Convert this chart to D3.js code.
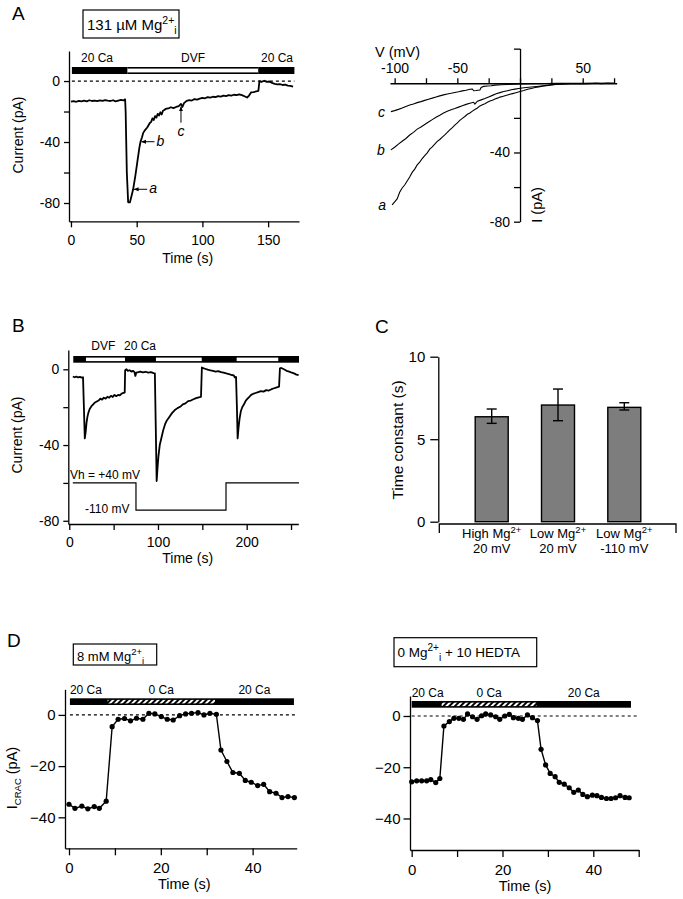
<!DOCTYPE html>
<html><head><meta charset="utf-8">
<script src="https://cdn.jsdelivr.net/npm/d3@7"></script>
<style>body{margin:0;background:#fff}</style>
</head><body><svg id="fig" width="683" height="899"></svg>
<script>
// ---------------- DATA ----------------
// Panel A (left): current trace
const aTime = [0,2,4,6,8,10,12,14,16,18,20,22,24,26,28,30,32,34,36,38,40,41.2,41.6,42.5,43.5,44.8,45.6,47.3,49,50.5,52,52.9,54,55,56.5,58,59,60,61,62,63,64,65,66,67,68,69,70,71,72,74,76,78,80,82,83.7,84.8,86,88,90,92,94,96,98,100,102,104,106,108,110,112,114,116,118,120,122,124,126,128,130,132,134,135.5,137,139,141,142.6,143.4,145,147,149,151,153,155,157,159,161,163,165,167,169];
const aCurrent = [-13.5,-13.2,-13.6,-13.0,-13.4,-12.9,-13.3,-12.6,-13.1,-12.8,-13.2,-12.7,-13.0,-12.5,-12.9,-13.1,-12.6,-13.3,-12.8,-12.4,-12.7,-12.0,-20,-60,-79.5,-79.6,-77,-71,-62,-53,-44,-39.8,-37,-34,-32,-30.5,-29,-27.5,-26.8,-24.5,-25.6,-23,-24,-21.5,-22.6,-20.5,-22,-19.5,-19,-18.3,-18,-17.2,-17.8,-17,-16.4,-15,-17,-14.5,-13,-12.5,-12.8,-11.8,-12.2,-11.5,-11.0,-11.3,-10.6,-10.9,-10.3,-10.6,-9.9,-10.2,-9.6,-9.9,-9.3,-9.6,-9.0,-9.3,-8.7,-9.2,-10.0,-10.8,-9.5,-7.5,-7.2,-6.8,-6.5,0,-0.5,0.2,-0.6,-0.3,-1.2,-1.8,-2.2,-2.0,-2.6,-2.4,-3.0,-3.2,-3.6];
const aSolution = [{name:"20 Ca", from:0.7, to:43, fill:"black"},{name:"DVF", from:43, to:142.5, fill:"white"},{name:"20 Ca", from:142.5, to:170, fill:"black"}];
const aMarks = [{label:"a", t:47.3, i:-71, dir:"left"},{label:"b", t:52.9, i:-39.8, dir:"left"},{label:"c", t:83.7, i:-15.5, dir:"up"}];

// Panel A (right): I-V relations
const ivA_V = [-102,-100,-98,-96,-94,-92,-90,-88,-86,-84,-82,-80,-78,-76,-74,-72,-70,-68,-66,-64,-62,-60,-58,-56,-54,-52,-50,-48,-46,-44,-42,-40,-38,-36,-34,-32,-30,-28,-26,-24,-22,-20,-18,-16,-14,-12,-10,-8,-6,-4,-2,0,3,6,9,12,15,18,21,24,27,30,35,40,45,50,55,60,65,70,75];
const ivA_I = [-70.3,-68.5,-66.8,-63,-60.5,-58.8,-56.5,-54.2,-51.5,-49.6,-47.2,-45.6,-43.5,-41.8,-40.2,-38.1,-36.8,-35.2,-33.6,-32.5,-31.1,-29.8,-28.4,-26.9,-25.6,-24.2,-22.9,-21.4,-20.3,-19.2,-17.9,-17.2,-16.1,-15.2,-14.3,-13.1,-12.4,-11.8,-11.0,-10.3,-9.8,-9.1,-8.6,-8.0,-7.6,-7.2,-6.8,-6.4,-6.0,-5.6,-5.2,-4.8,-4.2,-3.5,-3.0,-2.5,-2.1,-1.7,-1.4,-1.1,-0.8,-0.6,-0.4,-0.3,-0.2,-0.1,-0.3,0,-0.2,0.1,-0.1];
const ivB_V = [-103,-100,-97,-94,-91,-88,-85,-82,-79,-76,-73,-70,-67,-64,-61,-58,-55,-52,-49,-46,-43,-40,-37,-36,-35,-34,-31,-28,-25,-22,-19,-16,-13,-10,-7,-4,-1,3,7,11,15,20,25,30,40,50,60,70,75];
const ivB_I = [-38.5,-37,-35.2,-33.5,-31.9,-29.9,-28.4,-26.5,-25.3,-23.8,-22.4,-21.0,-19.6,-18.5,-17.2,-16.2,-15.3,-14.6,-13.8,-13.0,-12.2,-11.6,-11.0,-12.0,-11.2,-10.4,-9.6,-8.8,-7.9,-7.0,-6.1,-5.4,-4.8,-4.3,-3.8,-3.4,-3.0,-2.6,-2.3,-2.0,-1.7,-1.3,-0.9,-0.6,-0.3,-0.2,0,-0.1,0];
const ivC_V = [-103,-100,-97,-94,-91,-88,-85,-82,-79,-76,-73,-70,-67,-64,-61,-58,-55,-52,-49,-46,-43,-40,-38,-37,-35,-32,-31,-29,-26,-23,-20,-15,-10,-5,0,10,20,30,50,75];
const ivC_I = [-16.4,-15.8,-15.1,-14.3,-13.4,-12.6,-12.0,-11.2,-10.6,-9.9,-9.2,-8.6,-7.9,-7.3,-6.7,-6.2,-5.8,-5.3,-4.9,-4.4,-4.0,-3.5,-3.3,-4.3,-4.2,-3.9,-2.4,-1.8,-1.6,-1.4,-1.1,-0.9,-0.7,-0.5,-0.4,-0.2,-0.1,0,0,0];
const ivLabels = ["a","b","c"];

// Panel B: repeated DVF applications
const bTime = [4,6,8,10,12,14,15.5,16.5,17.5,18.5,19.5,20.5,21.5,23,25,27,29,31,33,35,37,39,41,43,45,47,49,51,53,55,57,59,61,62.5,63,64.5,66,68,70,72,73.5,74.5,75.5,78,80,83,86,89,92,95,96.5,97.5,98.5,99.5,100.5,102,104,106,108,110,113,116,119,122,125,128,131,134,137,140,143,146,148.5,149.5,151,153,156,159,162,165,168,171,174,177,180,183,185.5,186.5,188,189,189.8,190.8,192,193.5,195,197,199,201,203,205,207,210,213,216,219,222,225,228,231,234,236.5,237.5,239,242,245,248,251,254,256,258.5];
const bCurrent = [-3.8,-4.2,-3.9,-4.3,-4.0,-4.4,-4.2,-20,-36.5,-33,-28,-25,-23,-21,-19.5,-18.5,-17.5,-17,-16.5,-15.5,-16,-15,-15.5,-14.5,-15,-14,-14.6,-13.5,-14.2,-13.5,-13.8,-12.8,-12.5,-12.3,-0.5,0,-0.8,-0.5,-1.2,-0.8,-1.5,-3.5,-1.8,-1.5,-1.2,-1.6,-1.3,-1.8,-1.5,-2.0,-2.2,-30,-59,-52,-46,-40,-36,-32,-29,-27,-25,-23,-21.5,-20.5,-19.8,-18.5,-18,-16.8,-16.5,-15.8,-15.2,-14.8,-14.5,1.0,0.6,0.3,-0.2,-0.5,-0.8,-1.2,-1.0,-1.5,-1.8,-2.2,-2.5,-3.0,-3.2,-4.2,-4.0,-20,-36.5,-31,-26,-22,-20,-18.5,-16.5,-15.5,-14.5,-13.5,-13,-12.5,-12,-11.5,-11.8,-11,-11.2,-10.5,-10,-9.5,-9.2,0.5,0.7,0,-0.8,-1.2,-1.8,-2.3,-2.8,-3.0];
const bBar = [4.5, 259];
const bDVF = [[18.8,62.8],[97.7,149.3],[188.7,235.6]];
const bProtocolT = [4, 75.2, 75.2, 176.7, 176.7, 259];
const bProtocolY = [-60, -60, -74.4, -74.4, -60, -60];

// Panel C: time constants
const cCategories = ["High Mg", "Low Mg", "Low Mg "];
const cLine2 = ["20 mV", "20 mV", "-110 mV"];
const cMeans = [6.36, 7.07, 6.93];
const cErrLow = [5.96, 6.12, 6.77];
const cErrHigh = [6.83, 8.04, 7.21];

// Panel D (left): 8 mM Mg
const dlTime = [0,1.3,2.8,4.1,5.5,6.6,8.1,9.4,10.7,12.1,13.4,14.7,16.1,17.4,18.7,20.1,21.4,22.7,24.1,25.4,26.7,28.1,29.4,30.7,32.1,33.1,34.4,35.7,37.1,38.4,39.7,41.1,42.4,43.7,45.1,46.4,47.7,49.1];
const dlCurrent = [-34.9,-36.5,-35.6,-36.7,-35.8,-36.5,-33.7,-4.6,-1.7,-1.4,-2.3,-1.3,-1.7,0.65,0.4,-0.65,-1.7,-2.0,-0.3,0.4,0.65,0.9,0,0.65,0.26,-13.7,-18.2,-22.5,-22.8,-25.6,-26.3,-27.6,-27.1,-30,-30.6,-32.3,-31.9,-32.3];
const dlBar = [0.2, 49];
const dlZeroCa = [8.4, 31.8];

// Panel D (right): 0 Mg + 10 HEDTA
const drTime = [0,1.1,2.2,3.3,4.2,5.3,6.2,7.1,8.3,9.3,10.4,11.4,12.3,13.4,14.4,15.4,16.3,17.4,18.5,19.4,20.5,21.5,22.4,23.5,24.4,25.5,26.6,27.7,28.5,29.5,30.5,31.6,32.5,33.6,34.7,35.7,36.7,37.7,38.7,39.8,40.8,41.8,42.9,43.9,44.9,45.9,47.0,47.9];
const drCurrent = [-25.7,-25.3,-25.3,-25.3,-24.8,-26,-24.4,-3.9,-2.2,-0.9,-0.9,-1.3,0.8,-0.3,-1.3,0.1,0.8,0.4,-0.3,-1.3,0,0.65,-0.65,-0.9,-1.3,0.4,-0.65,-1.8,-13,-19.1,-22.4,-23.7,-25.9,-26.6,-28,-29.8,-28.9,-30.6,-31.5,-30.9,-31.1,-31.8,-32.2,-32.2,-31.9,-31.1,-31.8,-31.9];
const drBar = [0, 48.3];
const drZeroCa = [6.6, 27.5];

// ---------------- DRAWING ----------------
const FONT = '"Liberation Sans", Arial, Helvetica, sans-serif';
const svg = d3.select("#fig").attr("font-family", FONT);
svg.append("rect").attr("width",683).attr("height",899).attr("fill","#fff");

const defs = svg.append("defs");
const pat = defs.append("pattern").attr("id","hatch").attr("patternUnits","userSpaceOnUse")
  .attr("width",4).attr("height",4).attr("patternTransform","rotate(45)");
pat.append("rect").attr("width",4).attr("height",4).attr("fill","#fff");
pat.append("rect").attr("width",2).attr("height",4).attr("fill","#000");
defs.append("marker").attr("id","arr").attr("viewBox","0 0 10 10").attr("refX",9).attr("refY",5)
  .attr("markerWidth",5).attr("markerHeight",5).attr("orient","auto")
  .append("path").attr("d","M0,1 L10,5 L0,9 Z").attr("fill","#000");

function fmt(labels){ return d => labels.includes(d) ? String(d) : ""; }
function styleAxis(g, fs){
  g.attr("font-family", FONT).attr("font-size", fs);
  g.selectAll("path.domain").attr("stroke","#000").attr("stroke-width",1.3);
  g.selectAll(".tick line").attr("stroke","#000").attr("stroke-width",1.3);
  g.selectAll("text").attr("fill","#000");
}
function txt(x,y,s,fs,anchor,extra){
  const t = svg.append("text").attr("x",x).attr("y",y).attr("font-size",fs)
    .attr("text-anchor",anchor||"start").attr("fill","#000").text(s);
  if (extra) extra(t);
  return t;
}
function vtitle(x,y,s,fs){
  return svg.append("text").attr("transform",`translate(${x},${y}) rotate(-90)`)
    .attr("text-anchor","middle").attr("font-size",fs).attr("fill","#000").text(s);
}
function letter(x,y,s){ txt(x,y,s,19,"start"); }

// ---------- Panel A left ----------
letter(12,20,"A");
{
  svg.append("rect").attr("x",83).attr("y",10).attr("width",96).attr("height",28)
    .attr("fill","#fff").attr("stroke","#000").attr("stroke-width",1.2);
  const t = txt(87,30,"131 \u00B5M Mg",15);
  t.append("tspan").attr("dy",-6).attr("font-size",10.5).text("2+");
  t.append("tspan").attr("dy",10).attr("font-size",10.5).text("i");

  const x = d3.scaleLinear().domain([-1.5,173.5]).range([69,299]);
  const y = d3.scaleLinear().domain([-92,19.7]).range([221.3,51]);
  const gx = svg.append("g").attr("transform","translate(0,221.3)")
    .call(d3.axisBottom(x).tickValues([0,50,100,150]).tickFormat(fmt([0,50,100,150])).tickSize(6).tickSizeOuter(0).tickPadding(8));
  styleAxis(gx,14);
  const gy = svg.append("g").attr("transform","translate(69,0)")
    .call(d3.axisLeft(y).tickValues([0,-20,-40,-60,-80]).tickFormat(fmt([0,-40,-80])).tickSize(5).tickSizeOuter(0).tickPadding(4));
  styleAxis(gy,14);
  txt(187.7,262.7,"Time (s)",14,"middle");
  vtitle(23,135,"Current (pA)",14);

  // solution bar
  const by = 67, bh = 7;
  const labelX = [97, 193, 277];
  aSolution.forEach((s,k)=>{
    svg.append("rect").attr("x",x(s.from)).attr("y",by).attr("width",x(s.to)-x(s.from)).attr("height",bh).attr("fill","#000");
    if (s.fill==="white") svg.append("rect").attr("x",x(s.from)).attr("y",by+1.6).attr("width",x(s.to)-x(s.from)).attr("height",bh-3.2).attr("fill","#fff");
    txt(labelX[k],62,s.name,12,"middle");
  });
  svg.append("line").attr("x1",x(0.7)).attr("x2",x(170)).attr("y1",y(0)).attr("y2",y(0))
    .attr("stroke","#000").attr("stroke-width",1.2).attr("stroke-dasharray","3,3");

  const line = d3.line().x((d,i)=>x(aTime[i])).y((d,i)=>y(aCurrent[i]));
  svg.append("path").attr("d",line(aTime)).attr("fill","none").attr("stroke","#000").attr("stroke-width",1.8).attr("stroke-linejoin","round");

  aMarks.forEach(m=>{
    const px = x(m.t), py = y(m.i);
    if (m.dir==="left"){
      svg.append("line").attr("x1",px+14).attr("y1",py).attr("x2",px+1).attr("y2",py)
        .attr("stroke","#000").attr("stroke-width",1).attr("marker-end","url(#arr)");
      txt(px+16,py+4,m.label,14,"start",t=>t.attr("font-style","italic"));
    } else {
      svg.append("line").attr("x1",px).attr("y1",py+18).attr("x2",px).attr("y2",py+2)
        .attr("stroke","#000").attr("stroke-width",1).attr("marker-end","url(#arr)");
      txt(px,py+31,m.label,14,"middle",t=>t.attr("font-style","italic"));
    }
  });
}

// ---------- Panel A right (I-V) ----------
{
  const x = d3.scaleLinear().domain([-103.7,77.1]).range([390,616.7]);
  const y = d3.scaleLinear().domain([-80,20.2]).range([221.7,48.3]);
  const gx = svg.append("g").attr("transform",`translate(0,${y(0)})`)
    .call(d3.axisTop(x).tickValues([-100,-75,-50,-25,0,25,50,75]).tickFormat(fmt([-100,-50,50])).tickSize(5).tickSizeOuter(0).tickPadding(5));
  styleAxis(gx,14);
  const gy = svg.append("g").attr("transform",`translate(${x(0)},0)`)
    .call(d3.axisLeft(y).tickValues([20,-20,-40,-60,-80]).tickFormat(fmt([-40,-80])).tickSize(6).tickSizeOuter(0).tickPadding(4));
  styleAxis(gy,14);
  txt(375,56.7,"V (mV)",14.5,"start");
  vtitle(542,205,"I (pA)",14.5);
  const series = [[ivA_V,ivA_I],[ivB_V,ivB_I],[ivC_V,ivC_I]];
  series.forEach((s,k)=>{
    const ln = d3.line().x((d,i)=>x(s[0][i])).y((d,i)=>y(s[1][i]));
    svg.append("path").attr("d",ln(s[0])).attr("fill","none").attr("stroke","#000").attr("stroke-width",1.1);
    txt(x(s[0][0])-6, y(s[1][0])+5, ivLabels[k], 14, "end", t=>t.attr("font-style","italic"));
  });
}

// ---------- Panel B ----------
letter(12,332,"B");
{
  const x = d3.scaleLinear().domain([-1.1,258.2]).range([68.3,298.3]);
  const y = d3.scaleLinear().domain([-81.7,10.2]).range([524,350]);
  const gx = svg.append("g").attr("transform","translate(0,524)")
    .call(d3.axisBottom(x).tickValues([0,50,100,150,200,250]).tickFormat(fmt([0,100,200])).tickSize(6).tickSizeOuter(0).tickPadding(7));
  styleAxis(gx,14);
  const gy = svg.append("g").attr("transform","translate(68.3,0)")
    .call(d3.axisLeft(y).tickValues([0,-20,-40,-60,-80]).tickFormat(fmt([0,-40,-80])).tickSize(5).tickSizeOuter(0).tickPadding(4));
  styleAxis(gy,14);
  txt(187.7,563,"Time (s)",14,"middle");
  vtitle(22,435,"Current (pA)",14);

  const by = 356, bh = 6.7;
  svg.append("rect").attr("x",x(bBar[0])).attr("y",by).attr("width",x(bBar[1])-x(bBar[0])).attr("height",bh).attr("fill","#000");
  bDVF.forEach(d=>{
    svg.append("rect").attr("x",x(d[0])).attr("y",by+1.6).attr("width",x(d[1])-x(d[0])).attr("height",bh-3.2).attr("fill","#fff");
  });
  txt(103.3,350,"DVF",12,"middle");
  txt(140,350,"20 Ca",12,"middle");

  const line = d3.line().x((d,i)=>x(bTime[i])).y((d,i)=>y(bCurrent[i]));
  svg.append("path").attr("d",line(bTime)).attr("fill","none").attr("stroke","#000").attr("stroke-width",1.8).attr("stroke-linejoin","round");
  const pl = d3.line().x((d,i)=>x(bProtocolT[i])).y((d,i)=>y(bProtocolY[i]));
  svg.append("path").attr("d",pl(bProtocolT)).attr("fill","none").attr("stroke","#000").attr("stroke-width",1.2);
  txt(70,479,"Vh = +40 mV",12,"start");
  txt(85,513,"-110 mV",12,"start");
}

// ---------- Panel C ----------
letter(375,333,"C");
{
  const x = d3.scalePoint().domain(cCategories).range([491.7,624.3]);
  const y = d3.scaleLinear().domain([0,10]).range([521.7,356.7]);
  const gy = svg.append("g").attr("transform","translate(438.3,0)")
    .call(d3.axisLeft(y).tickValues([0,5,10]).tickSize(8).tickSizeOuter(0).tickPadding(5));
  styleAxis(gy,15);
  svg.append("path").attr("d","M439.3,533 V524 H676 V533").attr("fill","none").attr("stroke","#000").attr("stroke-width",1.3);
  vtitle(403,440,"Time constant (s)",15.5);
  const bw = 33;
  cCategories.forEach((c,i)=>{
    const cx = x(c);
    svg.append("rect").attr("x",cx-bw/2).attr("y",y(cMeans[i])).attr("width",bw).attr("height",y(0)-y(cMeans[i]))
      .attr("fill","#7d7d7d").attr("stroke","#000").attr("stroke-width",1.4);
    svg.append("line").attr("x1",cx).attr("x2",cx).attr("y1",y(cErrLow[i])).attr("y2",y(cErrHigh[i])).attr("stroke","#000").attr("stroke-width",1.4);
    [cErrLow[i],cErrHigh[i]].forEach(v=>svg.append("line").attr("x1",cx-5).attr("x2",cx+5).attr("y1",y(v)).attr("y2",y(v)).attr("stroke","#000").attr("stroke-width",1.4));
    const t = txt(cx,538.3,c.trim(),13,"middle");
    t.append("tspan").attr("dy",-5).attr("font-size",9.5).text("2+");
    txt(cx,553.3,cLine2[i],13,"middle");
  });
}

// ---------- Panel D helper ----------
function panelD(cfg){
  const x = d3.scaleLinear().domain(cfg.xd).range(cfg.xr);
  const y = d3.scaleLinear().domain(cfg.yd).range(cfg.yr);
  const gx = svg.append("g").attr("transform",`translate(0,${cfg.yr[0]})`)
    .call(d3.axisBottom(x).tickValues(cfg.xticks).tickFormat(fmt([0,20,40])).tickSize(7).tickSizeOuter(0).tickPadding(7));
  styleAxis(gx,15);
  const gy = svg.append("g").attr("transform",`translate(${cfg.xr[0]},0)`)
    .call(d3.axisLeft(y).tickValues([0,-20,-40]).tickSize(6.5).tickSizeOuter(0).tickPadding(3));
  styleAxis(gy,15);
  txt(cfg.titleX,cfg.yr[0]+41,"Time (s)",14.5,"middle");
  const by = cfg.barY, bh = 6.7;
  svg.append("rect").attr("x",x(cfg.bar[0])).attr("y",by).attr("width",x(cfg.bar[1])-x(cfg.bar[0])).attr("height",bh).attr("fill","#000");
  svg.append("rect").attr("x",x(cfg.zero[0])).attr("y",by+1.6).attr("width",x(cfg.zero[1])-x(cfg.zero[0])).attr("height",bh-3.2).attr("fill","url(#hatch)");
  txt(x(cfg.bar[0])+16,by-4.5,"20 Ca",12,"middle");
  txt((x(cfg.zero[0])+x(cfg.zero[1]))/2,by-4.5,"0 Ca",12,"middle");
  txt((x(cfg.zero[1])+x(cfg.bar[1]))/2,by-4.5,"20 Ca",12,"middle");
  svg.append("line").attr("x1",x(cfg.bar[0])).attr("x2",cfg.zeroEnd).attr("y1",y(0)).attr("y2",y(0))
    .attr("stroke","#000").attr("stroke-width",1.2).attr("stroke-dasharray","3,3");
  const ln = d3.line().x((d,i)=>x(cfg.t[i])).y((d,i)=>y(cfg.v[i]));
  svg.append("path").attr("d",ln(cfg.t)).attr("fill","none").attr("stroke","#000").attr("stroke-width",1.4);
  svg.append("g").selectAll("circle").data(cfg.t).join("circle")
    .attr("cx",(d)=>x(d)).attr("cy",(d,i)=>y(cfg.v[i])).attr("r",2.6).attr("fill","#000");
}

letter(7,647,"D");
{
  svg.append("rect").attr("x",73.3).attr("y",644).attr("width",83.4).attr("height",21)
    .attr("fill","#fff").attr("stroke","#000").attr("stroke-width",1.2);
  const t = txt(77,660.5,"8 mM Mg",13);
  t.append("tspan").attr("dy",-5.5).attr("font-size",9.5).text("2+");
  t.append("tspan").attr("dy",9).attr("font-size",9.5).text("i");
  panelD({xd:[-0.87,49.6], xr:[65,296.7], yd:[-52.1,10], yr:[848.3,689.3], xticks:[0,10,20,30,40],
    titleX:184.3, barY:698.3, bar:dlBar, zero:dlZeroCa, zeroEnd:295, t:dlTime, v:dlCurrent});
  const yl = svg.append("text").attr("transform","translate(17,778) rotate(-90)").attr("text-anchor","middle").attr("font-size",14.5).attr("fill","#000");
  yl.append("tspan").text("I");
  yl.append("tspan").attr("dy",4).attr("font-size",9.5).text("CRAC");
  yl.append("tspan").attr("dy",-4).text(" (pA)");
}
{
  svg.append("rect").attr("x",394).attr("y",637.7).attr("width",142.7).attr("height",29)
    .attr("fill","#fff").attr("stroke","#000").attr("stroke-width",1.2);
  const t = txt(397.5,657,"0 Mg",13.5);
  t.append("tspan").attr("dy",-6).attr("font-size",10).text("2+");
  t.append("tspan").attr("dy",9.5).attr("font-size",10).text("i");
  t.append("tspan").attr("dy",-3.5).text(" + 10 HEDTA");
  panelD({xd:[-0.37,50], xr:[410,638.7], yd:[-52.3,7.8], yr:[850,696], xticks:[0,10,20,30,40,50],
    titleX:525, barY:701, bar:drBar, zero:drZeroCa, zeroEnd:638.3, t:drTime, v:drCurrent});
}
</script></body></html>
